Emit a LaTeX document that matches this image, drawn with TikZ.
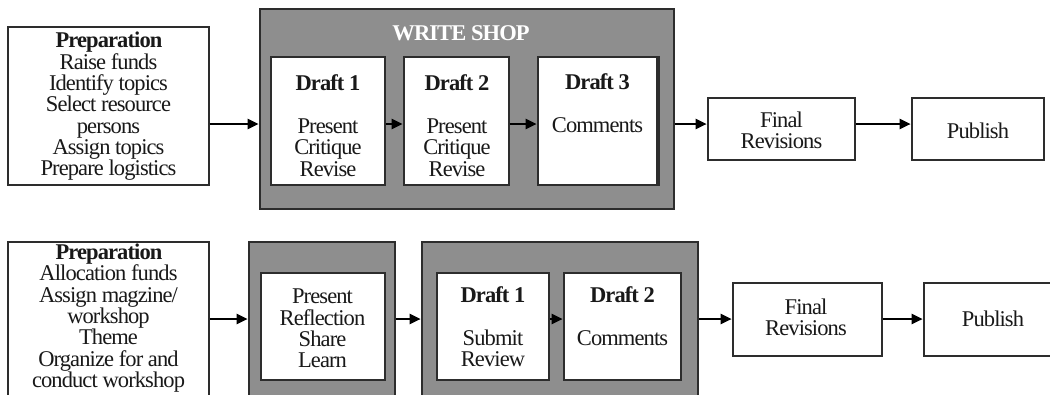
\documentclass[tikz,border=0pt]{standalone}
\usepackage{fontspec}
\setmainfont[LetterSpace=-4]{Liberation Serif}
\usetikzlibrary{arrows.meta}
\definecolor{shopgray}{RGB}{142,142,142}
\definecolor{edge}{RGB}{45,45,45}
\definecolor{ink}{RGB}{25,25,25}
\begin{document}
\begin{tikzpicture}[x=1pt,y=-1pt,
  box/.style={draw=edge, line width=1.4pt, fill=white, inner sep=0pt, minimum width=#1},
  shop/.style={draw=edge, line width=1.4pt, fill=shopgray, inner sep=0pt, minimum width=#1},
  txt/.style={text=ink, align=center, inner sep=0pt, font=\fontsize{22.5}{21.3}\selectfont},
  ttl/.style={txt, font=\fontsize{22.5}{21.3}\selectfont\bfseries},
  arr/.style={draw=black, line width=2.4pt, -{Triangle[length=11pt,width=10pt]}, shorten >=0.6pt}
]
\clip (0,0) rectangle (1050,394);
\fill[white] (0,0) rectangle (1050,394);

% ---------- top row ----------
\node[box=201pt, minimum height=158pt] (prep1) at (108.5,106) {};
\node[shop=414pt, minimum height=200pt] (ws) at (467,109) {};
\node[box=114pt, minimum height=128pt] (d1) at (328,121) {};
\node[box=105pt, minimum height=128pt] (d2) at (456.5,121) {};
\node[box=119pt, minimum height=128pt] (d3) at (597.5,121) {};
\draw[edge, line width=1.4pt] ([xshift=1.3pt]d3.north east) -- ([xshift=1.3pt]d3.south east);
\node[box=147pt, minimum height=62pt] (fr1) at (781.5,129) {};
\node[box=132pt, minimum height=62pt] (pub1) at (978,129) {};

\node[txt] (prep1t) at (108.5,106.5) {\textbf{Preparation}\\Raise funds\\Identify topics\\Select resource\\persons\\Assign topics\\Prepare logistics};
\node[ttl, text=white] (wst) at (461,33) {WRITE SHOP};
\node[ttl] (d1h) at (328,83) {Draft 1};
\node[txt] (d1t) at (328,147.5) {Present\\Critique\\Revise};
\node[ttl] (d2h) at (457,83) {Draft 2};
\node[txt] (d2t) at (457,147.5) {Present\\Critique\\Revise};
\node[ttl] (d3h) at (597.5,82) {Draft 3};
\node[txt] (d3t) at (597.5,125) {Comments};
\node[txt] (fr1t) at (781.5,130) {Final\\Revisions};
\node[txt] (pub1t) at (978,131) {Publish};

\coordinate (r1) at (0,124);
\draw[arr] (prep1.east |- r1) -- (ws.west |- r1);
\draw[arr] (d1.east |- r1) -- (d2.west |- r1);
\draw[arr] (d2.east |- r1) -- (d3.west |- r1);
\draw[arr] (ws.east |- r1) -- (fr1.west |- r1);
\draw[arr] (fr1.east |- r1) -- (pub1.west |- r1);

% ---------- bottom row ----------
\node[box=201pt, minimum height=160pt] (prep2) at (108.5,322) {};
\node[shop=146pt, minimum height=160pt] (g1) at (322,322) {};
\node[box=124pt, minimum height=107pt] (refl) at (323,326.5) {};
\node[shop=276pt, minimum height=160pt] (g2) at (560,322) {};
\node[box=112pt, minimum height=107pt] (bd1) at (493,326.5) {};
\node[box=117pt, minimum height=107pt] (bd2) at (622.5,326.5) {};
\node[box=149pt, minimum height=73pt] (fr2) at (807.5,319.5) {};
\node[box=138pt, minimum height=73pt] (pub2) at (993,319.5) {};

\node[txt] (prep2t) at (108.5,318) {\textbf{Preparation}\\Allocation funds\\Assign magzine/\\workshop\\Theme\\Organize for and\\conduct workshop};
\node[txt] (reflt) at (322.5,328.5) {Present\\Reflection\\Share\\Learn};
\node[ttl] (bd1h) at (493,295) {Draft 1};
\node[txt] (bd1t) at (493,348) {Submit\\Review};
\node[ttl] (bd2h) at (622.5,295) {Draft 2};
\node[txt] (bd2t) at (622.5,338) {Comments};
\node[txt] (fr2t) at (806,317) {Final\\Revisions};
\node[txt] (pub2t) at (993,319) {Publish};

\coordinate (r2) at (0,319);
\draw[arr] (prep2.east |- r2) -- (g1.west |- r2);
\draw[arr] (g1.east |- r2) -- (g2.west |- r2);
\draw[arr] (bd1.east |- r2) -- (bd2.west |- r2);
\draw[arr] (g2.east |- r2) -- (fr2.west |- r2);
\draw[arr] (fr2.east |- r2) -- (pub2.west |- r2);
\end{tikzpicture}
\end{document}
